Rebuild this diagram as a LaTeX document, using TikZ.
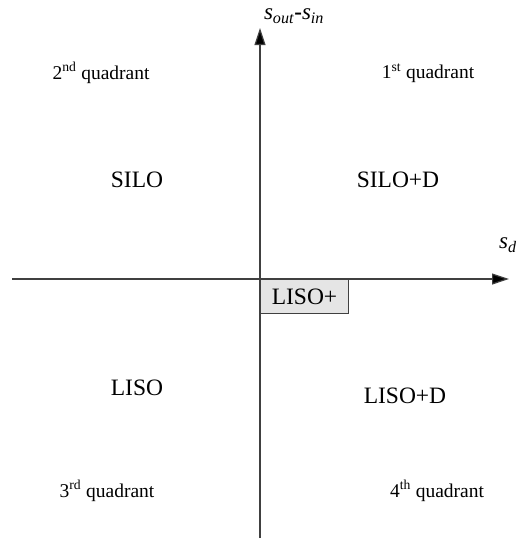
\documentclass[tikz,border=0pt]{standalone}
\usepackage{fontspec}
\setmainfont{Liberation Serif}
\usetikzlibrary{arrows.meta}
\tikzset{
  axis/.style={line width=1.2pt, draw=black!75, -{Triangle[length=17pt,width=11pt,fill=black]}},
  big/.style={font=\fontsize{23.5}{25}\selectfont, inner sep=0pt},
  quad/.style={font=\fontsize{19.5}{21}\selectfont, inner sep=0pt},
  lbl/.style={font=\fontsize{23}{25}\selectfont, inner sep=0pt},
  boxed/.style={draw=black!75, line width=1pt, fill=black!10, minimum width=88pt, minimum height=34pt, inner sep=0pt, font=\fontsize{23.5}{25}\selectfont}
}
\begin{document}
\begin{tikzpicture}[x=1pt,y=-1pt]
\useasboundingbox (0,0) rectangle (518,542);
\coordinate (xl) at (12,279);
\coordinate (xr) at (509,279);
\coordinate (yb) at (260,538);
\coordinate (yt) at (260,28);
\draw[axis] (xl) -- (xr);
\draw[axis] (yb) -- (yt);
\node[boxed, anchor=north west] (liso+) at (260,279) {LISO+};
\node[lbl] (ylab) at (294,16) {\textit{s}\textsubscript{\textit{out}}\textbf{-}\textit{s}\textsubscript{\textit{in}}};
\node[lbl] (xlab) at (508,245) {\textit{s}\textsubscript{\textit{d}}};
\node[quad] (q2) at (101,73) {2\textsuperscript{nd} quadrant};
\node[quad] (q1) at (428,73) {1\textsuperscript{st} quadrant};
\node[quad] (q3) at (107,491) {3\textsuperscript{rd} quadrant};
\node[quad] (q4) at (437,491) {4\textsuperscript{th} quadrant};
\node[big] (silo) at (137,180) {SILO};
\node[big] (silod) at (398,180) {SILO+D};
\node[big] (liso) at (137,388) {LISO};
\node[big] (lisod) at (405,396) {LISO+D};
\end{tikzpicture}
\end{document}
